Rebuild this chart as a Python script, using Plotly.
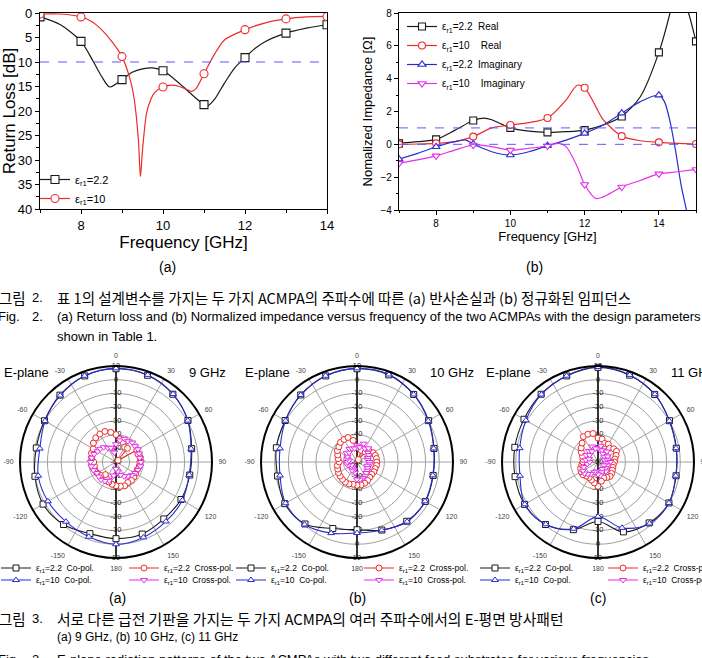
import plotly.graph_objects as go

W, H = 702, 658
FONT = "Liberation Sans, Arial, sans-serif"
NARROW = "Liberation Sans Narrow, Liberation Sans, Arial, sans-serif"
KFONT = "Noto Sans CJK KR, sans-serif"

BLACK = "#1a1a1a"
RED = "#ee2a2a"
BLUE = "#2b2bd0"
MAGENTA = "#e62ee6"
DASH = "#5a5aff"

# ---------------- Fig. 2(a): return loss ----------------
rl_freq_22 = [7.0, 7.5, 8.0, 8.3, 8.5, 8.7, 9.0, 9.25, 9.5, 9.75, 10.0, 10.25, 10.5,
              10.75, 11.0, 11.1, 11.25, 11.5, 11.75, 12.0, 12.25, 12.5, 13.0, 13.5, 14.0]
rl_22 = [0.8, 2.4, 5.8, 9.9, 12.9, 15.1, 13.6, 12.1, 11.4, 11.2, 11.8, 13.3, 15.1,
         17.0, 18.7, 18.9, 17.7, 14.3, 11.2, 9.1, 7.2, 5.8, 4.1, 3.1, 2.4]
rl_freq_10 = [7.0, 7.5, 8.0, 8.25, 8.5, 8.75, 9.0, 9.2, 9.3, 9.4, 9.45, 9.5, 9.6, 9.7,
              9.8, 10.0, 10.2, 10.4, 10.6, 10.7, 10.8, 11.0, 11.25, 11.5, 12.0, 12.5,
              13.0, 13.5, 14.0]
rl_10 = [0.2, 0.2, 0.8, 1.7, 3.4, 5.8, 8.9, 13.6, 17.7, 25.9, 33.4, 28.0, 20.4, 17.7,
         16.2, 15.1, 14.7, 15.0, 15.7, 16.0, 15.5, 12.4, 8.5, 5.5, 3.4, 2.0, 1.2, 0.8, 0.7]
RL_LIMIT = 10

# ---------------- Fig. 2(b): normalized impedance ----------------
z_freq_r22 = [7.0, 7.5, 8.0, 8.5, 9.0, 9.3, 9.5, 10.0, 10.5, 11.0, 11.5, 12.0, 12.5,
              13.0, 13.5, 14.0, 14.3, 14.5, 14.8, 15.0]
z_r22 = [0.06, 0.16, 0.3, 0.85, 1.45, 1.6, 1.5, 1.0, 0.8, 0.73, 0.77, 0.87, 1.18,
         1.7, 2.9, 5.6, 8.0, 10.0, 8.0, 6.27]
z_freq_r10 = [7.0, 7.5, 8.0, 8.5, 9.0, 9.5, 10.0, 10.5, 11.0, 11.5, 11.8, 12.0, 12.3,
              12.5, 13.0, 13.5, 14.0, 14.5, 15.0]
z_r10 = [0.0, 0.02, 0.06, 0.16, 0.47, 1.0, 1.18, 1.32, 1.6, 2.7, 3.6, 3.45, 2.3,
         1.5, 0.5, 0.22, 0.12, 0.06, 0.02]
z_freq_x22 = [7.0, 7.5, 8.0, 8.5, 8.8, 9.0, 9.5, 10.0, 10.5, 11.0, 11.5, 12.0, 12.5,
              13.0, 13.5, 14.0, 14.15, 14.3, 14.45, 14.6, 14.75, 15.0]
z_x22 = [-0.9, -0.55, -0.15, 0.16, 0.26, 0.02, -0.45, -0.65, -0.45, -0.08, 0.26, 0.67,
         1.18, 1.9, 2.6, 3.0, 2.6, 1.4, -0.4, -2.5, -4.1, -7.5]
z_freq_x10 = [7.0, 7.5, 8.0, 8.5, 9.0, 9.5, 10.0, 10.5, 11.0, 11.3, 11.5, 11.8, 12.0,
              12.3, 12.5, 13.0, 13.5, 14.0, 14.5, 15.0]
z_x10 = [-1.16, -0.95, -0.7, -0.35, -0.04, -0.14, -0.35, -0.24, -0.1, 0.06, -0.14,
         -1.36, -2.45, -3.3, -3.2, -2.6, -2.2, -1.8, -1.67, -1.53]
Z_REF_LINES = [0, 1]

# ---------------- Fig. 3: E-plane patterns (dB) ----------------
co_theta = [0, 20, 40, 60, 80, 100, 120, 140, 160, 180, 200, 220, 240, 260, 280, 300, 320, 340, 360]
co22_9 = [8.0, 7.3, 4.5, 0.6, -4.0, -5.4, -5.3, -5.8, -4.1, -4.1, -4.4, -0.5, 1.4, 0.0, -1.0, 0.2, 3.6, 6.8, 8.0]
co10_9 = [8.3, 7.6, 4.7, 0.4, -4.4, -5.8, -4.1, -3.4, -1.5, 0.0, -2.0, -3.2, -2.7, -2.4, -3.6, -0.3, 3.3, 6.9, 8.3]
co22_10 = [8.0, 7.6, 4.3, 0.3, -3.0, -3.6, -2.5, -3.6, -7.2, -10.6, -8.4, -1.0, 0.8, -1.2, -0.3, 0.5, 3.8, 6.8, 8.0]
co10_10 = [8.3, 7.9, 4.3, 0.0, -3.2, -3.9, -2.7, -3.2, -7.0, -8.2, -4.8, -0.5, 0.2, -3.0, -3.0, 0.2, 3.8, 6.9, 8.3]
co22_11 = [9.0, 7.4, 4.3, 0.2, -2.0, -2.2, -0.3, -2.0, -5.8, -16.6, -7.5, -0.5, 1.8, 1.4, 1.6, 2.3, 4.5, 6.8, 9.0]
co10_11 = [9.3, 7.6, 4.5, 0.0, -2.2, -2.4, -0.3, -1.5, -8.9, -20.2, -8.2, -0.7, 1.7, -2.2, -2.0, 0.7, 4.3, 6.9, 9.3]

x_theta = [0, 10, 20, 30, 40, 50, 60, 70, 80, 90, 100, 110, 120, 130, 140, 150, 160, 170,
           180, 190, 200, 210, 220, 230, 240, 250, 260, 270, 280, 290, 300, 310, 320, 330,
           340, 350, 360]
x22_9 = [-40, -43, -45, -47.5, -47, -58, -42.5, -43, -42, -42.6, -42.8, -43.5, -43.4, -43,
         -42.5, -42.7, -41.5, -42, -42.7, -43.5, -44.5, -46, -48, -45, -44, -43.5, -44,
         -43.7, -42, -41, -40.8, -38.5, -37, -36.5, -36.3, -38, -40]
x10_9 = [-47, -44, -42, -42.5, -41.5, -42, -41.5, -42, -42.5, -41.8, -42, -43, -44, -45,
         -46.5, -48, -50, -53, -55, -50, -45.5, -44, -43, -43.5, -44, -42.5, -41.8, -41.5,
         -42, -43, -44.5, -45, -46, -48, -49, -53, -47]
x22_10 = [-49, -50, -51, -58, -50.6, -48, -46.5, -45.8, -45.6, -45.5, -45.6, -46, -45.8,
          -46, -45.5, -44.5, -43.5, -43, -43, -43.5, -43, -43, -43.5, -44, -44.4, -45,
          -45.5, -47, -46, -45, -43.5, -42.7, -41.3, -41, -41, -44, -49]
x10_10 = [-48, -49, -45.8, -48.6, -47, -49.5, -50, -51.4, -52, -51, -50.5, -52, -51, -50.2,
          -49.5, -48, -47.5, -47, -47.2, -52, -54, -53, -55, -54.5, -55.6, -53, -52.4,
          -53, -54, -52.5, -52, -50, -51, -49, -49.5, -50, -48]
x22_11 = [-42.5, -43, -45.6, -45, -46.9, -45, -44.4, -46, -47.5, -48, -48.7, -48.5, -48,
          -47, -46.3, -47, -47.6, -45.8, -42.3, -44.5, -46, -47, -46.6, -45.6, -45.8,
          -46.5, -48, -49, -49, -48, -46, -44, -42, -38.6, -38.4, -38.9, -42.5]
x10_11 = [-50, -48, -51, -53, -50, -54, -52, -55, -53, -51, -54, -52.5, -55, -53, -51, -54,
          -52, -50, -51, -53, -52, -50, -48.5, -47, -47.5, -49, -52, -54, -51, -53, -50,
          -52, -49.5, -51, -48, -50, -50]

R_MIN, R_MAX = -60, 10
r_tickvals = [-60, -50, -40, -30, -20, -10, 0, 10]
ang_tickvals = [0, 30, 60, 90, 120, 150, 180, 210, 240, 270, 300, 330]
ang_ticktext = ["0", "30", "60", "90", "120", "150", "180", "-150", "-120", "-90", "-60", "-30"]


def X(px):
    return px / W


def Y(py):
    return 1 - py / H


def integer_points(xs, ys):
    px = [a for a in xs if float(a).is_integer()]
    py = [b for a, b in zip(xs, ys) if float(a).is_integer()]
    return px, py


fig = go.Figure()


def add_cart_series(xs, ys, color, symbol, name, legend, xa="x", ya="y", size=8):
    fig.add_trace(go.Scatter(x=xs, y=ys, mode="lines", xaxis=xa, yaxis=ya,
                             line=dict(color=color, width=1.2, shape="spline", smoothing=0.8),
                             showlegend=False, hoverinfo="skip"))
    mx, my = integer_points(xs, ys)
    fig.add_trace(go.Scatter(x=mx, y=my, mode="markers", xaxis=xa, yaxis=ya,
                             marker=dict(symbol=symbol, size=size, color="white",
                                         line=dict(color=color, width=1.1)),
                             showlegend=False, hoverinfo="skip"))
    fig.add_trace(go.Scatter(x=[None], y=[None], mode="lines+markers", xaxis=xa, yaxis=ya,
                             line=dict(color=color, width=1.2),
                             marker=dict(symbol=symbol, size=size, color="white",
                                         line=dict(color=color, width=1.1)),
                             name=name, legend=legend))


EPS = "ε<sub>r1</sub>"
NB = "\u00a0"

add_cart_series(rl_freq_22, rl_22, BLACK, "square", EPS + "=2.2", "legend")
add_cart_series(rl_freq_10, rl_10, RED, "circle", EPS + "=10", "legend")

add_cart_series(z_freq_r22, z_r22, BLACK, "square", EPS + "=2.2" + NB * 2 + "Real", "legend2", "x2", "y2", 7)
add_cart_series(z_freq_r10, z_r10, RED, "circle", EPS + "=10" + NB * 4 + "Real", "legend2", "x2", "y2", 7)
add_cart_series(z_freq_x22, z_x22, BLUE, "triangle-up", EPS + "=2.2" + NB * 2 + "Imaginary", "legend2", "x2", "y2", 7)
add_cart_series(z_freq_x10, z_x10, MAGENTA, "triangle-down", EPS + "=10" + NB * 4 + "Imaginary", "legend2", "x2", "y2", 7)

# ---------- polar plots ----------
polar_ids = ["polar", "polar2", "polar3"]
co_sets = [(co22_9, co10_9), (co22_10, co10_10), (co22_11, co10_11)]
x_sets = [(x22_9, x10_9), (x22_10, x10_10), (x22_11, x10_11)]
legend_rows = [("legend3", "legend4"), ("legend5", "legend6"), ("legend7", "legend8")]

for pid, (c22, c10), (x22, x10), (lg1, lg2) in zip(polar_ids, co_sets, x_sets, legend_rows):
    fig.add_trace(go.Scatterpolar(theta=[0, 0, 180], r=[R_MAX, R_MIN, R_MAX], mode="lines",
                                  subplot=pid, line=dict(color="black", width=1.5),
                                  showlegend=False, hoverinfo="skip"))
    lab_r = [v for v in r_tickvals if v != R_MIN]
    fig.add_trace(go.Scatterpolar(theta=[0] * len(lab_r) + [180] * len(lab_r) + [0],
                                  r=lab_r + lab_r + [R_MIN],
                                  text=[str(v) for v in lab_r] * 2 + [str(R_MIN)],
                                  mode="text", subplot=pid,
                                  textfont=dict(size=7.5, color="#222", family=FONT),
                                  showlegend=False, hoverinfo="skip"))
    series = [
        (c22, co_theta, BLACK, "square", EPS + "=2.2" + NB * 2 + "Co-pol.", lg1, 2),
        (c10, co_theta, BLUE, "triangle-up", EPS + "=10" + NB * 2 + "Co-pol.", lg2, 2),
        (x22, x_theta, RED, "circle", EPS + "=2.2" + NB * 2 + "Cross-pol.", lg1, 1),
        (x10, x_theta, MAGENTA, "triangle-down", EPS + "=10" + NB * 2 + "Cross-pol.", lg2, 1),
    ]
    for vals, th, color, sym, name, lg, step in series:
        shape = "spline" if step == 2 else "linear"
        fig.add_trace(go.Scatterpolar(theta=th, r=vals, mode="lines", subplot=pid,
                                      line=dict(color=color, width=1.1, shape=shape),
                                      showlegend=False, hoverinfo="skip"))
        fig.add_trace(go.Scatterpolar(theta=th[:-1], r=vals[:-1], mode="markers", subplot=pid,
                                      marker=dict(symbol=sym, size=6, color="white",
                                                  line=dict(color=color, width=1)),
                                      showlegend=False, hoverinfo="skip"))
    order = [series[0], series[2], series[1], series[3]]
    for vals, th, color, sym, name, lg, step in order:
        fig.add_trace(go.Scatterpolar(theta=[None], r=[None], mode="lines+markers", subplot=pid,
                                      line=dict(color=color, width=1.1),
                                      marker=dict(symbol=sym, size=6, color="white",
                                                  line=dict(color=color, width=1)),
                                      name=name, legend=lg))


def polar_cfg(cx, cy=462, r=96):
    return dict(
        domain=dict(x=[X(cx - r), X(cx + r)], y=[Y(cy + r), Y(cy - r)]),
        bgcolor="white",
        angularaxis=dict(rotation=90, direction="clockwise", tickmode="array",
                         tickvals=ang_tickvals, ticktext=ang_ticktext,
                         tickfont=dict(size=7, color="#444", family=FONT),
                         showline=True, linecolor="black", linewidth=2,
                         showgrid=True, gridcolor="#a0a0a0", gridwidth=0.8,
                         ticks="outside", ticklen=4, tickcolor="rgba(0,0,0,0)"),
        radialaxis=dict(range=[R_MIN, R_MAX], tickmode="array", tickvals=r_tickvals,
                        showticklabels=False, ticks="", showline=False,
                        showgrid=True, gridcolor="#a0a0a0", gridwidth=0.8),
    )


axis_common = dict(showline=True, linecolor="black", linewidth=1.2, mirror=True,
                   showgrid=False, zeroline=False, ticks="outside", tickwidth=1,
                   tickcolor="black")

leg_common = dict(bgcolor="rgba(0,0,0,0)", borderwidth=0, itemwidth=30,
                  traceorder="normal", tracegroupgap=0)

fig.update_layout(
    width=W, height=H, autosize=False,
    margin=dict(l=0, r=0, t=0, b=0, autoexpand=False),
    paper_bgcolor="white", plot_bgcolor="white",
    font=dict(family=FONT, color="black"),
    xaxis=dict(domain=[X(40), X(327)], range=[7, 14], tick0=0, dtick=2, ticklen=4,
               minor=dict(dtick=1, ticks="outside", ticklen=3),
               tickfont=dict(size=13), anchor="y",
               title=dict(text="Frequency [GHz]", font=dict(size=17), standoff=0),
               **axis_common),
    yaxis=dict(domain=[Y(209), Y(13)], range=[40, 0], dtick=5, ticklen=4,
               minor=dict(dtick=2.5, ticks="outside", ticklen=3),
               tickfont=dict(size=13), anchor="x",
               title=dict(text="Return Loss [dB]", font=dict(size=17), standoff=4),
               **axis_common),
    xaxis2=dict(domain=[X(399), X(696)], range=[7, 15], tick0=0, dtick=2, ticklen=4,
                minor=dict(dtick=1, ticks="outside", ticklen=2),
                tickfont=dict(size=10), anchor="y2",
                title=dict(text="Frequency [GHz]", font=dict(size=13), standoff=0),
                **axis_common),
    yaxis2=dict(domain=[Y(210), Y(13)], range=[-4, 8], dtick=2, ticklen=4,
                minor=dict(dtick=1, ticks="outside", ticklen=2),
                tickfont=dict(size=10), anchor="x2",
                title=dict(text="Nomalized Impedance [Ω]", font=dict(size=13), standoff=4),
                **axis_common),
    polar=polar_cfg(116),
    polar2=polar_cfg(357),
    polar3=polar_cfg(598),
    legend=dict(x=X(35), y=Y(165), xanchor="left", yanchor="top",
                font=dict(size=11, family=FONT), **leg_common),
    legend2=dict(x=X(402), y=Y(12), xanchor="left", yanchor="top",
                 font=dict(size=10, family=FONT), **leg_common),
)

row_y = [568, 580]
col_x = [-4, 231, 475]
for i, (lg1, lg2) in enumerate(legend_rows):
    for lg, ry in ((lg1, row_y[0]), (lg2, row_y[1])):
        fig.update_layout({lg: dict(x=X(col_x[i]), y=Y(ry), xanchor="left", yanchor="middle",
                                    orientation="h", entrywidth=83, entrywidthmode="pixels",
                                    font=dict(size=8.5, family=FONT), **leg_common)})

fig.add_shape(type="line", xref="x domain", yref="y", x0=0, x1=1, y0=RL_LIMIT, y1=RL_LIMIT,
              line=dict(color=DASH, width=1, dash="dash"))
for v in Z_REF_LINES:
    fig.add_shape(type="line", xref="x2 domain", yref="y2", x0=0, x1=1, y0=v, y1=v,
                  line=dict(color=DASH, width=1, dash="dash"))

ann = []


def text(xp, yp, s, size, family=FONT, xanchor="left", color="black"):
    ann.append(dict(x=X(xp), y=Y(yp), xref="paper", yref="paper", text=s, showarrow=False,
                    xanchor=xanchor, yanchor="middle", font=dict(size=size, family=family, color=color)))


text(167, 267, "(a)", 14, NARROW, "center")
text(534, 267, "(b)", 14, NARROW, "center")

text(-3, 297, "그림", 14.5, KFONT)
text(30, 297, "2.", 13, NARROW)
text(55, 297, "표 1의 설계변수를 가지는 두 가지 ACMPA의 주파수에 따른 (a) 반사손실과 (b) 정규화된 임피던스", 14.5, KFONT)
text(-4, 317, "Fig.", 13, NARROW)
text(30, 317, "2.", 13, NARROW)
text(55, 317, "(a) Return loss and (b) Normalized impedance versus frequency of the two ACMPAs with the design parameters", 13, NARROW)
text(55, 336, "shown in Table 1.", 13, NARROW)

for cx, ghz in ((116, "9 GHz"), (357, "10 GHz"), (598, "11 GHz")):
    text(cx - 114, 373, "E-plane", 13)
    text(cx + 71, 373, ghz, 13)

text(117, 598, "(a)", 14, NARROW, "center")
text(357, 598, "(b)", 14, NARROW, "center")
text(598, 598, "(c)", 14, NARROW, "center")

text(-3, 618, "그림", 14.5, KFONT)
text(30, 618, "3.", 13, NARROW)
text(55, 618, "서로 다른 급전 기판을 가지는 두 가지 ACMPA의 여러 주파수에서의 E-평면 방사패턴", 14.8, KFONT)
text(55, 637, "(a) 9 GHz, (b) 10 GHz, (c) 11 GHz", 12, NARROW)
text(-4, 659, "Fig.", 13, NARROW)
text(30, 659, "3.", 13, NARROW)
text(55, 659, "E-plane radiation patterns of the two ACMPAs with two different feed substrates for various frequencies", 13, NARROW)

fig.update_layout(annotations=ann)

fig.write_html("out.html")
